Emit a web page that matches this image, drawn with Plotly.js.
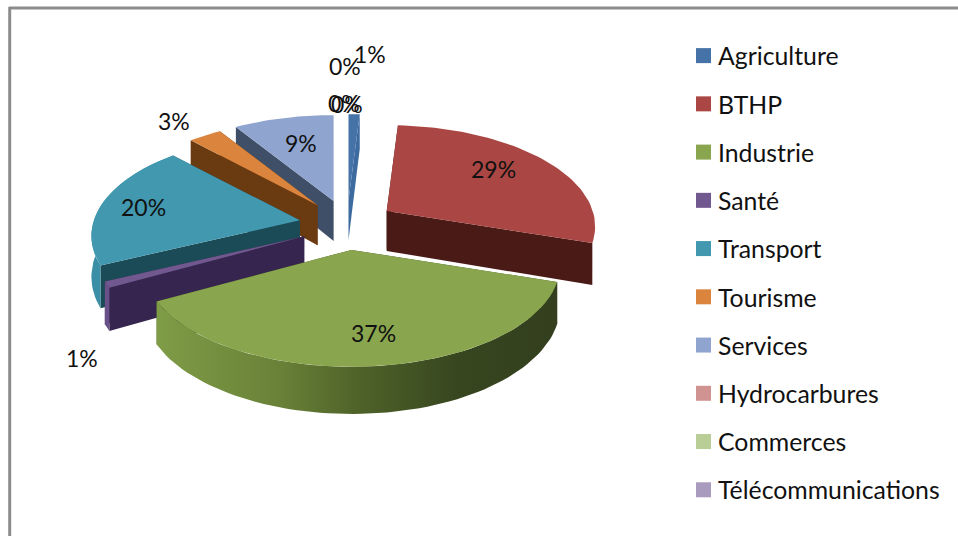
<!DOCTYPE html>
<html>
<head>
<meta charset="utf-8">
<script src="https://cdn.plot.ly/plotly-3.0.1.min.js"></script>
<style>html,body{margin:0;padding:0;background:#fff}#chart{width:958px;height:536px}#chart text{font-variant-ligatures:none}</style>
</head>
<body>
<div id="chart"></div>
<script>
// ---- data ----
const categories = ["Agriculture","BTHP","Industrie","Santé","Transport","Tourisme","Services","Hydrocarbures","Commerces","Télécommunications"];
const shares = [1,29,37,1,20,3,9,0,0,0];
const topColors = ["#4572a7","#aa4643","#89a54e","#71588f","#4198af","#db843d","#8fa5cf","#d19392","#b9cd96","#a99bbd"];
const cutColors = ["#3d6ba0","#4a1a16","#3f5020","#36264f","#1b4b57","#6a3a10","#3f4f68","#6a4040","#5a6a40","#4a4060"];
const rimColors = ["#3b6699","#6e2a27","#6f8a3e","#6a5088","#3a8ea5","#a8602a","#7f95bf","#a97070","#90a070","#8070a0"];
const labelText = ["1%","29%","37%","1%","20%","3%","9%","0%","0%","0%"];

// ---- look of the 3D projection ----
const view = {cx:347, cy:225, rx:206, ry:99, persp:0.153, depth:40, pullX:48, pullY:25};
const paintOrder = [6,5,0,1,4,3,2];
const rimHidden = [0,1,5,6];
const labelAnchors = [[370,54],[493,169],[373,333],[82,358],[143,207],[174,121],[301,143],[344,103],[345,66],[347,104]];

const total = shares.reduce((a,b)=>a+b,0);
const rad = d => d*Math.PI/180;
let acc = 0;
const spans = shares.map(v => { const a = acc/total*360; acc += v; return [a, acc/total*360]; });

function project(tip, deg, drop){
  const u = Math.sin(rad(deg)), v = -Math.cos(rad(deg));
  const s = 1/(1 - view.persp*v);
  return [tip[0] + view.rx*u*s, tip[1] + view.ry*v*s + drop*s];
}
function face(pts, fill, gradient){
  const t = {type:"scatter", mode:"lines", x:pts.map(p=>p[0]).concat(pts[0][0]), y:pts.map(p=>p[1]).concat(pts[0][1]),
    fill:"toself", line:{width:0}, hoverinfo:"skip", showlegend:false, fillcolor:fill};
  if(gradient){ t.fillgradient = {type:"horizontal", colorscale:gradient}; }
  return t;
}
const gradients = {2:[[0,"#7f9c47"],[0.3,"#6a8238"],[0.5,"#4f6329"],[0.75,"#37461f"],[1,"#333f1e"]]};
const traces = [];
paintOrder.forEach(i => {
  const [a,b] = spans[i];
  const mid = (a+b)/2;
  const tip = [view.cx + view.pullX*Math.sin(rad(mid)), view.cy - view.pullY*Math.cos(rad(mid))];
  const tipLow = [tip[0], tip[1]+view.depth];
  const arcTop = [], arcLow = [];
  const steps = Math.max(4, Math.ceil((b-a)/2));
  for(let k=0;k<=steps;k++){
    const d = a+(b-a)*k/steps;
    arcTop.push(project(tip,d,0));
    arcLow.push(project(tip,d,view.depth));
  }
  traces.push(face([tip,arcTop[0],arcLow[0],tipLow], cutColors[i]));
  traces.push(face([tip,arcTop[steps],arcLow[steps],tipLow], cutColors[i]));
  if(!rimHidden.includes(i)) traces.push(face(arcTop.concat(arcLow.slice().reverse()), rimColors[i], gradients[i]));
  traces.push(face([tip].concat(arcTop), topColors[i]));
});
categories.forEach((c,i) => traces.push({type:"scatter", mode:"markers", name:c, x:[null], y:[null], legendgroup:c,
  marker:{symbol:"square", size:15, color:topColors[i]}, hoverinfo:"skip"}));

const annotations = labelText.map((t,i)=>({text:t, x:labelAnchors[i][0], y:labelAnchors[i][1], xref:"x", yref:"y",
  showarrow:false, xanchor:"center", yanchor:"middle", font:{family:"Lato, Carlito, sans-serif", size:23, color:"#111"}}));

const layout = {
  width:958, height:536, margin:{l:0,r:0,t:0,b:0}, paper_bgcolor:"#fff", plot_bgcolor:"#fff",
  xaxis:{range:[0,958], visible:false, fixedrange:true},
  yaxis:{range:[536,0], visible:false, fixedrange:true},
  annotations,
  shapes:[
    {type:"line", xref:"x", yref:"y", x0:9.7, x1:9.7, y0:7, y1:536, line:{color:"#8c8c8c", width:3}},
    {type:"line", xref:"x", yref:"y", x0:9, x1:958, y0:8, y1:8, line:{color:"#8c8c8c", width:3}}
  ],
  showlegend:true,
  legend:{x:678/958, y:1-33/536, xanchor:"left", yanchor:"top", tracegroupgap:13, itemwidth:30, itemclick:false,
    font:{family:"Lato, Carlito, sans-serif", size:24.8, color:"#111"}, bgcolor:"rgba(0,0,0,0)"}
};
Plotly.newPlot("chart", traces, layout, {displayModeBar:false, staticPlot:true}).then(gd => {
  gd.querySelectorAll(".legendsymbols").forEach(g => g.setAttribute("transform","translate(5.5,0)"));
});
</script>
</body>
</html>
